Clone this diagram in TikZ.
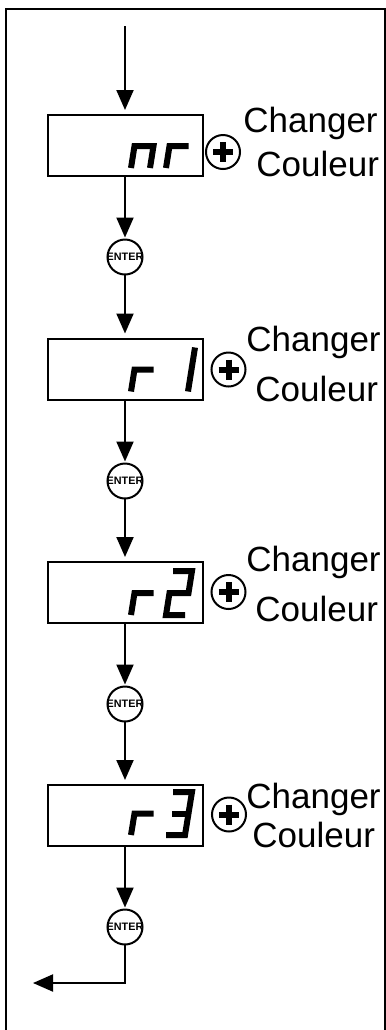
\documentclass[tikz,border=0pt]{standalone}
\usepackage{fontspec}
\setmainfont{Liberation Sans}
\usetikzlibrary{arrows.meta}

\tikzset{
  display/.style = {draw, line width=1pt, minimum width=77.5pt, minimum height=30.5pt, inner sep=0pt, outer sep=0pt},
  enterkey/.style = {draw, circle, line width=1pt, minimum size=17.5pt, inner sep=-1pt, outer sep=0pt, font=\fontsize{5.4}{5.4}\selectfont\bfseries},
  pluskey/.style = {draw, circle, line width=1pt, minimum size=17pt, inner sep=0pt, outer sep=0pt},
  plusbar/.style = {line width=3pt},
  seg/.style = {line width=3pt, line join=miter, line cap=butt},
  flow/.style = {line width=1pt, -{Triangle[length=10pt, width=8.5pt]}},
  menutext/.style = {anchor=base west, inner sep=0pt, font=\fontsize{17.5}{17.5}\selectfont}
}

\begin{document}
\begin{tikzpicture}[x=0.5pt, y=-0.5pt]
\useasboundingbox (0,0) rectangle (386,1030);
\clip (0,0) rectangle (386,1030);
% frame
\draw[line width=1.2pt] (6,1040) -- (6,9) -- (385,9) -- (385,1040);

% displays
\node[display] (disp1) at (125, 145.5) {};
\node[display] (disp2) at (125, 369) {};
\node[display] (disp3) at (125, 592.5) {};
\node[display] (disp4) at (125, 815.5) {};

% enter keys
\node[enterkey] (ent1) at (125, 257) {ENTER};
\node[enterkey] (ent2) at (125, 481) {ENTER};
\node[enterkey] (ent3) at (125, 704) {ENTER};
\node[enterkey] (ent4) at (125, 927) {ENTER};

% plus keys
\node[pluskey] (plus1) at (223, 152) {};
\node[pluskey] (plus2) at (228.5, 369.5) {};
\node[pluskey] (plus3) at (228.5, 592) {};
\node[pluskey] (plus4) at (229, 814.5) {};
\draw[plusbar] (plus1.center) +(-10,0) -- +(10,0) (plus1.center) +(0,-10) -- +(0,10);
\draw[plusbar] (plus2.center) +(-10,0) -- +(10,0) (plus2.center) +(0,-10) -- +(0,10);
\draw[plusbar] (plus3.center) +(-10,0) -- +(10,0) (plus3.center) +(0,-10) -- +(0,10);
\draw[plusbar] (plus4.center) +(-10,0) -- +(10,0) (plus4.center) +(0,-10) -- +(0,10);

% texts
\node[menutext] (chg1) at (243, 132) {Changer};
\node[menutext] (cou1) at (256, 176) {Couleur};
\node[menutext] (chg2) at (246, 351) {Changer};
\node[menutext] (cou2) at (255, 401) {Couleur};
\node[menutext] (chg3) at (246, 571) {Changer};
\node[menutext] (cou3) at (255, 621) {Couleur};
\node[menutext] (chg4) at (246, 808) {Changer};
\node[menutext] (cou4) at (252, 847) {Couleur};

% digits: nr
\draw[seg] (131,168) -- (134.5,146) -- (153.5,146) -- (150,168);
\draw[seg] (166,168) -- (169.5,146) -- (188.5,146);
% r1
\draw[seg] (131,391.5) -- (134.5,369.5) -- (153.5,369.5);
\draw[seg] (195,347.5) -- (191.5,369.5) -- (188,391.5);
% r2
\draw[seg] (131,615) -- (134.5,593) -- (153.5,593);
\draw[seg] (173,571) -- (192,571) -- (188.5,593) -- (169.5,593) -- (166,615) -- (185,615);
% r3
\draw[seg] (131,835) -- (134.5,813.5) -- (153.5,813.5);
\draw[seg] (173,792) -- (192,792) -- (188.5,813.5) -- (185,835) -- (166,835);
\draw[seg] (172,813.5) -- (188.5,813.5);

% connectors
\coordinate (entry) at (125, 26);
\coordinate (exit) at (33, 983);
\draw[flow, shorten >=2.5pt] (entry) -- (disp1);
\draw[flow, shorten >=1pt] (disp1) -- (ent1);
\draw[flow, shorten >=2.5pt] (ent1) -- (disp2);
\draw[flow, shorten >=1pt] (disp2) -- (ent2);
\draw[flow, shorten >=2.5pt] (ent2) -- (disp3);
\draw[flow, shorten >=1pt] (disp3) -- (ent3);
\draw[flow, shorten >=2.5pt] (ent3) -- (disp4);
\draw[flow, shorten >=1pt] (disp4) -- (ent4);
\draw[flow] (ent4) |- (exit);
\end{tikzpicture}
\end{document}
